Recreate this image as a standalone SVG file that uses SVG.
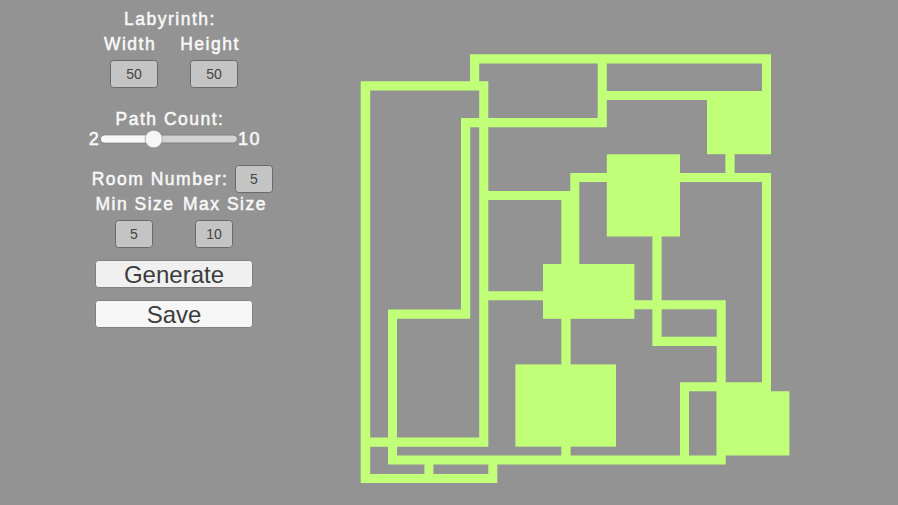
<svg xmlns="http://www.w3.org/2000/svg" width="898" height="505" viewBox="0 0 898 505">
<style>
.c{fill:#c2ff78}
.l{font-family:"Liberation Sans",Arial,sans-serif;font-size:17.500px;fill:#f8f8f8;letter-spacing:1.500px;text-anchor:middle;stroke:#f8f8f8;stroke-width:.5px}
.f{fill:#c4c4c4;stroke:#6a6a6a;stroke-width:1}
.v{font-family:"Liberation Sans",Arial,sans-serif;font-size:14px;fill:#444;text-anchor:middle}
.b{fill:#f0f0f0;stroke:#808080;stroke-width:1}
.t{font-family:"Liberation Sans",Arial,sans-serif;font-size:24px;fill:#3c3c3c;text-anchor:middle}
</style>
<rect width="898" height="505" fill="#939393"/>
<g id="label-labyrinth"><text class="l" x="170" y="25">Labyrinth:</text></g>
<g id="label-width"><text class="l" x="130" y="50">Width</text></g>
<g id="label-height"><text class="l" x="210" y="50">Height</text></g>
<g id="field-width"><rect class="f" x="110.500" y="60.500" width="47" height="27" rx="3"/><text class="v" x="134" y="79">50</text></g>
<g id="field-height"><rect class="f" x="190.500" y="60.500" width="47" height="27" rx="3"/><text class="v" x="214" y="79">50</text></g>
<g id="label-path"><text class="l" x="170" y="125">Path Count:</text></g>
<g id="slider">
<text class="l" x="94.500" y="145" style="font-size:18px">2</text>
<text class="l" x="249.500" y="145" style="font-size:18px">10</text>
<rect x="100.500" y="135" width="137" height="8" rx="4" fill="#d2d2d2" stroke="#808080" stroke-width="1"/>
<rect x="101" y="135.500" width="52" height="7" rx="3.500" fill="#f8f8f8"/>
<circle cx="153.700" cy="139" r="8.700" fill="#f6f6f6" stroke="#8a8a8a" stroke-width=".6"/>
</g>
<g id="label-room"><text class="l" x="160" y="185">Room Number:</text></g>
<g id="field-room"><rect class="f" x="235.500" y="165.500" width="37" height="27" rx="3"/><text class="v" x="254" y="184">5</text></g>
<g id="label-min"><text class="l" x="135" y="210">Min Size</text></g>
<g id="label-max"><text class="l" x="225" y="210">Max Size</text></g>
<g id="field-min"><rect class="f" x="115.500" y="220.500" width="37" height="27" rx="3"/><text class="v" x="134" y="239">5</text></g>
<g id="field-max"><rect class="f" x="195.500" y="220.500" width="37" height="27" rx="3"/><text class="v" x="214" y="239">10</text></g>
<g id="btn-generate"><rect class="b" x="95.500" y="260.500" width="157" height="27" rx="3"/><text class="t" x="174" y="282.500">Generate</text></g>
<g id="btn-save"><rect class="b" x="95.500" y="300.500" width="157" height="27" rx="3" style="fill:#f6f6f6"/><text class="t" x="174" y="322.500">Save</text></g>
<g id="connectors">
<path class="c" d="M470 54.300h301v9.100h-301z M470 54.300h9.200v36h-9.200z M360.700 81.300h127.600v9.300h-127.600z M360.700 81.300h9.500v401.700h-9.500z M479.200 81.300h9.100v365.400h-9.100z M461 118h145.800v9.200h-145.800z M461 118h9.200v200.700h-9.200z M597.700 54.300h9.100v73h-9.100z M597.700 91h173.300v9.100h-173.300z M762 54.300h9v100h-9z M488 191h82v9h-82z M561.300 191h9.200v74h-9.200z M570.300 173h200.700v9h-200.700z M570.300 173h9v92h-9z M725.400 150h9.200v25h-9.200z M762 173h9v220h-9z M652.400 235h9.200v111h-9.200z M488 291.300h56v9h-56z M633 300.300h92.700v9h-92.700z M652.400 336.800h68v9.200h-68z M716.700 300.300h9v164h-9z M561.300 317h9.300v48h-9.300z M561.300 445h9.300v12h-9.300z M388 309.400h82v9.300h-82z M388 309.400h9v155h-9z M370 437.400h118.300v9.300h-118.300z M388 455.600h337.700v8.900h-337.700z M424.400 463h9v12h-9z M488.300 463h9v20h-9z M360.700 474h136.600v9h-136.600z M680 382.300h91v9h-91z M680 382.300h9v80h-9z"/>
</g>
<g id="room-1"><rect class="c" x="707" y="98" width="57" height="56.200"/></g>
<g id="room-2"><rect class="c" x="606.800" y="154.300" width="73.200" height="82.200"/></g>
<g id="room-3"><rect class="c" x="543" y="264" width="91.400" height="54.800"/></g>
<g id="room-4"><rect class="c" x="515.400" y="364.400" width="100.600" height="82.200"/></g>
<g id="room-5"><path class="c" d="M716.700 385h54.300v6.300h18.400v64.200h-72.700z"/></g>
</svg>
